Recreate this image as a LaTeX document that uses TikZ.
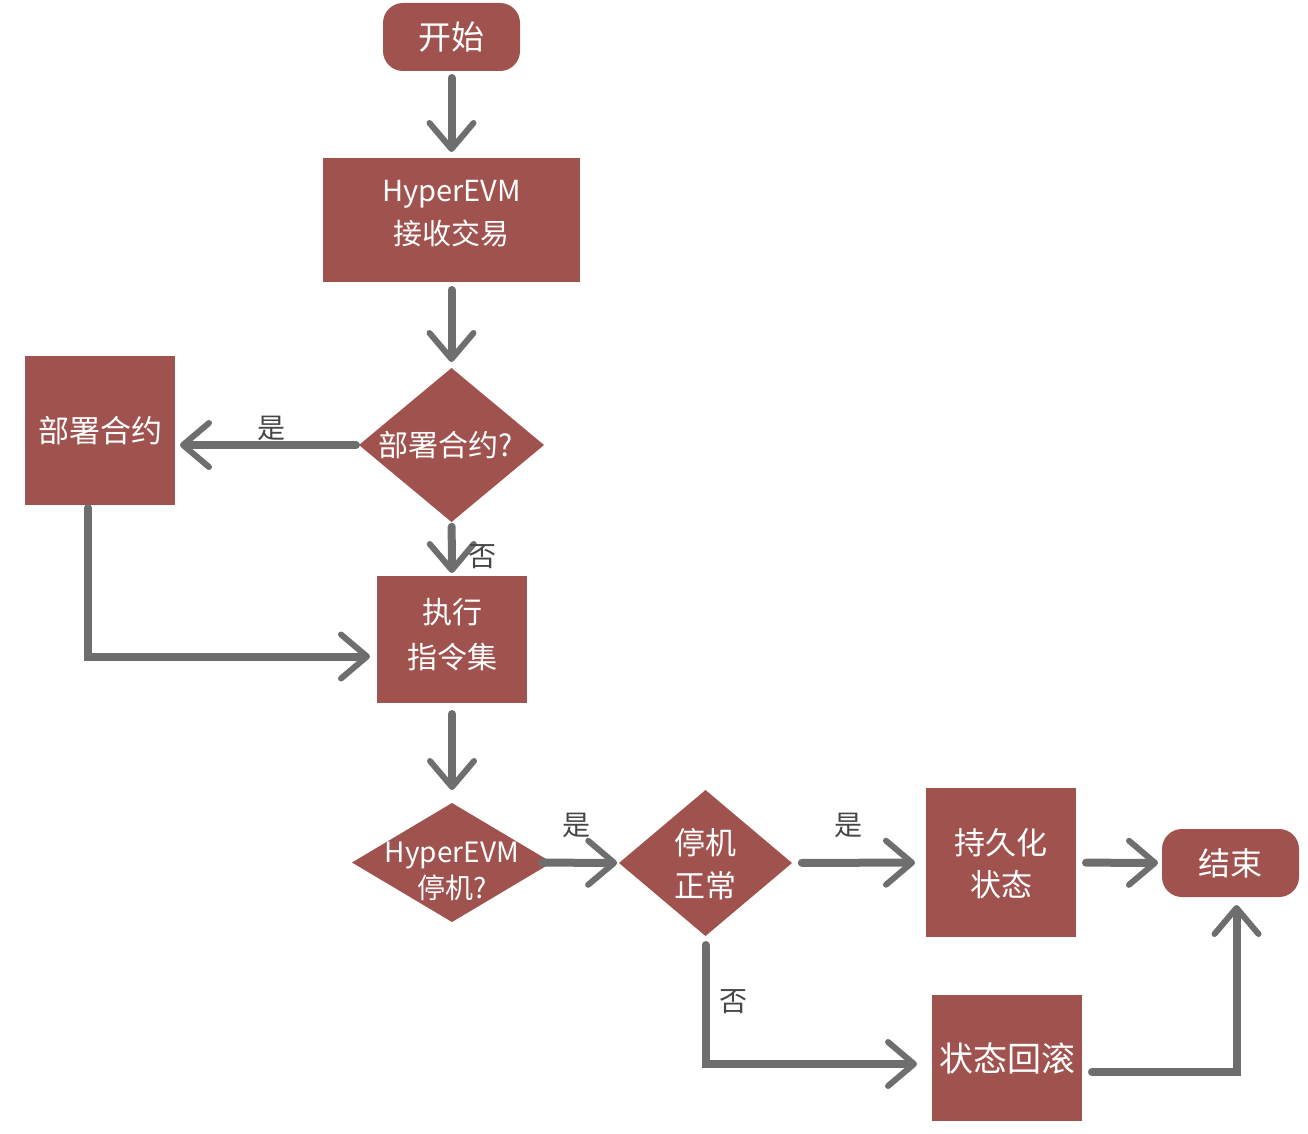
\documentclass[tikz,border=0pt]{standalone}
\usepackage{fontspec}
\setmainfont{Noto Sans CJK SC}
\usetikzlibrary{arrows.meta,shapes.geometric}
\definecolor{boxred}{RGB}{160,82,78}
\definecolor{arrgray}{RGB}{110,110,110}
\definecolor{lblgray}{RGB}{70,70,70}
\begin{document}
\begin{tikzpicture}[x=1pt,y=-1pt,
  box/.style={fill=boxred, draw=none, text=white, inner sep=0pt, outer sep=0pt, align=center, font=\fontsize{29}{43}\selectfont},
  rbox/.style={box, rounded corners=20pt},
  dia/.style={diamond, fill=boxred, draw=none, inner sep=0pt, outer sep=0pt},
  dtext/.style={text=white, align=center, font=\fontsize{29}{37}\selectfont},
  arr/.style={draw=arrgray, line width=8pt, line cap=round, -{Straight Barb[length=26pt, width=44pt, line width=6pt, round]}},
  lbl/.style={text=lblgray, font=\fontsize{28}{28}\selectfont}
]
\path[use as bounding box] (0,0) rectangle (1308,1134);

\node[rbox, minimum width=137pt, minimum height=68pt, font=\fontsize{33}{33}\selectfont] (start) at (451.5,37) {开始};
\node[box, minimum width=257pt, minimum height=124pt, label={[dtext, yshift=6pt, font=\fontsize{29}{43}\selectfont]center:HyperEVM\\接收交易}] (recv) at (451.5,220) {};
\node[dia, minimum width=185pt, minimum height=154pt, label={[dtext, xshift=-6pt, font=\fontsize{30}{30}\selectfont]center:部署合约?}] (q1) at (451.5,445) {};
\node[box, minimum width=150pt, minimum height=149pt, font=\fontsize{31}{31}\selectfont] (deploy) at (100,430.5) {部署合约};
\node[box, minimum width=150pt, minimum height=127pt, label={[dtext, yshift=5pt, font=\fontsize{30}{45}\selectfont]center:执行\\指令集}] (exec) at (452,639.5) {};
\node[dia, minimum width=200pt, minimum height=119pt, label={[dtext, yshift=-9pt, font=\fontsize{28}{36}\selectfont]center:HyperEVM\\停机?}] (q2) at (452,862.5) {};
\node[dia, minimum width=173pt, minimum height=146pt, label={[dtext, yshift=-1pt, font=\fontsize{31}{43}\selectfont]center:停机\\正常}] (q3) at (705.5,863) {};
\node[box, minimum width=150pt, minimum height=149pt, label={[dtext, yshift=-1pt, font=\fontsize{31}{42}\selectfont]center:持久化\\状态}] (persist) at (1001,862.5) {};
\node[rbox, minimum width=137pt, minimum height=68pt, font=\fontsize{32}{32}\selectfont] (end) at (1230.5,863) {结束};
\node[box, minimum width=150pt, minimum height=126pt, font=\fontsize{34}{34}\selectfont] (roll) at (1007,1058) {状态回滚};

\draw[arr, shorten <=7pt, shorten >=6pt] (start) -- (recv);
\draw[arr, shorten <=8pt, shorten >=6pt] (recv) -- (q1);
\draw[arr, shorten <=3pt, shorten >=5pt] (q1.west) -- (q1.west -| deploy.east);
\draw[arr, shorten <=5pt, shorten >=3pt] (q1) -- (exec);
\draw[arr, shorten <=3pt, shorten >=7pt] ([xshift=-12pt]deploy.south) |- ([yshift=-17pt]exec.west);
\draw[arr, shorten <=11pt, shorten >=13pt] (exec) -- (q2);
\draw[arr, shorten <=-10pt, shorten >=2pt] (q2) -- (q3);
\draw[arr, shorten <=10pt, shorten >=11pt] (q3) -- (persist);
\draw[arr, shorten <=10pt, shorten >=4pt] (persist) -- (end);
\draw[arr, shorten <=9pt, shorten >=15pt] (q3.south) |- ([yshift=-6pt]roll.west);
\draw[arr, shorten <=10pt, shorten >=8pt] ([yshift=-14pt]roll.east) -| ([xshift=6pt]end.south);

\node[lbl] (l1) at (271,428) {是};
\node[lbl] (l2) at (482,557) {否};
\node[lbl] (l3) at (576,825) {是};
\node[lbl] (l4) at (848,825) {是};
\node[lbl] (l5) at (733,1002) {否};
\end{tikzpicture}
\end{document}
